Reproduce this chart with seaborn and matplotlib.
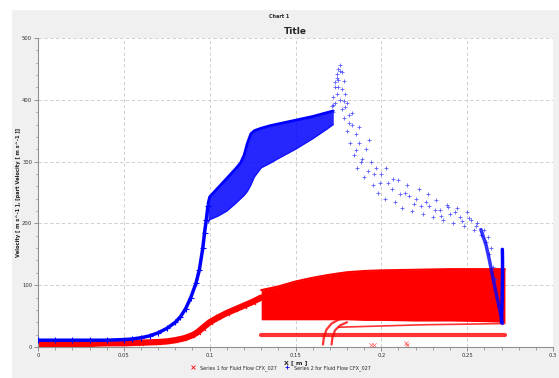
import numpy as np
import pandas as pd
import matplotlib
matplotlib.use("Agg")
import matplotlib.pyplot as plt
from matplotlib.lines import Line2D
from matplotlib.patches import Rectangle
import seaborn as sns

sns.set_theme(style="white")
plt.rcParams['font.family'] = ['DejaVu Sans']

# ---- data ----
# Series 2 (blue +): rising curve up to the jump at x~0.1
blue_rise_x = [0, 0.01, 0.02, 0.03, 0.04, 0.05, 0.055, 0.06, 0.065, 0.07, 0.075,
               0.08, 0.083, 0.086, 0.089, 0.092, 0.094, 0.096, 0.097, 0.098, 0.099]
blue_rise_y = [11, 11, 11, 11, 11, 12, 13, 15, 18, 23, 30,
               40, 49, 62, 80, 103, 125, 160, 185, 205, 228]

# Series 2: dense band between x=0.1 and 0.172
blue_band_x = [0.099, 0.1, 0.105, 0.11, 0.115, 0.118, 0.12, 0.122, 0.124, 0.126,
               0.13, 0.135, 0.14, 0.15, 0.16, 0.168, 0.172]
blue_band_top = [232, 243, 258, 273, 288, 298, 310, 330, 345, 350,
                 354, 358, 361, 367, 373, 379, 382]
blue_band_bottom = [200, 206, 212, 220, 232, 240, 245, 252, 262, 275,
                    290, 297, 305, 320, 337, 352, 360]

# Series 2: peak and scattered decay
blue_cloud_x = [0.171, 0.172, 0.172, 0.173, 0.173, 0.174, 0.174, 0.175, 0.175, 0.176,
                0.176, 0.177, 0.177, 0.178, 0.178, 0.179, 0.18, 0.18, 0.181, 0.182,
                0.183, 0.184, 0.185, 0.186, 0.187, 0.188, 0.19, 0.191, 0.192, 0.194,
                0.195, 0.197, 0.198, 0.2, 0.202, 0.204, 0.206, 0.208, 0.21, 0.212,
                0.214, 0.216, 0.218, 0.22, 0.222, 0.224, 0.226, 0.228, 0.23, 0.232,
                0.234, 0.236, 0.238, 0.24, 0.242, 0.244, 0.246, 0.248, 0.25, 0.252,
                0.254, 0.256, 0.258, 0.26, 0.261, 0.262, 0.263, 0.264, 0.265, 0.266,
                0.172, 0.173, 0.174, 0.175, 0.176, 0.177, 0.178, 0.179, 0.181, 0.183,
                0.185, 0.187, 0.189, 0.193, 0.196, 0.199, 0.203, 0.207, 0.211, 0.215,
                0.219, 0.223, 0.227, 0.231, 0.235, 0.239, 0.243, 0.247, 0.251, 0.255]
blue_cloud_y = [390, 405, 380, 420, 395, 435, 410, 450, 420, 456,
                400, 445, 385, 430, 370, 410, 395, 350, 375, 330,
                360, 310, 345, 290, 330, 300, 275, 320, 285, 300,
                262, 290, 250, 280, 240, 265, 255, 235, 270, 225,
                250, 245, 220, 240, 255, 215, 235, 228, 210, 238,
                222, 205, 230, 215, 200, 225, 210, 195, 218, 205,
                190, 200, 182, 190, 170, 178, 150, 160, 130, 110,
                392, 428, 442, 432, 446, 418, 398, 388, 362, 378,
                318, 356, 305, 335, 280, 265, 290, 272, 248, 262,
                232, 228, 248, 222, 212, 226, 218, 204, 208, 196]

# Series 2: tail and vertical spike at the outlet
blue_tail_x = [0.258, 0.261, 0.263, 0.265, 0.267, 0.269, 0.2705]
blue_tail_y = [190, 165, 140, 112, 85, 60, 38]
blue_spike_x = [0.2700, 0.2702, 0.2704, 0.2705, 0.2706, 0.2706, 0.2705]
blue_spike_y = [40, 60, 80, 100, 120, 140, 158]

# Series 1 (red x): slow rise up to x=0.13
red_rise_x = [0, 0.01, 0.02, 0.03, 0.04, 0.05, 0.06, 0.07, 0.075, 0.08, 0.085,
              0.09, 0.093, 0.096, 0.1, 0.105, 0.11, 0.115, 0.12, 0.125, 0.13]
red_rise_y = [5, 5, 5, 5, 6, 6, 7, 8, 9, 11, 14,
              19, 24, 31, 40, 48, 55, 61, 67, 73, 80]

# Series 1: dense block from x=0.13 to the outlet
red_block_x = [0.13, 0.14, 0.15, 0.16, 0.17, 0.18, 0.19, 0.2, 0.22, 0.24, 0.26, 0.272]
red_block_top = [92, 98, 106, 112, 117, 121, 123, 124, 125, 126, 126, 126]
red_block_bottom = [44, 44, 44, 44, 44, 44, 43, 43, 42, 42, 41, 40]

# Series 1: thin lower lines and curved traces
red_low_x = [0.13, 0.16, 0.19, 0.22, 0.25, 0.272]
red_low_y = [19, 19, 19, 19, 19, 19]
red_mid_x = [0.175, 0.2, 0.225, 0.25, 0.272]
red_mid_y = [32, 34, 36, 37, 38]
red_curve1_x = [0.166, 0.1665, 0.168, 0.171, 0.175, 0.18]
red_curve1_y = [4, 15, 28, 38, 44, 48]
red_curve2_x = [0.171, 0.1715, 0.173, 0.176, 0.18]
red_curve2_y = [4, 15, 27, 35, 40]
red_stray_x = [0.194, 0.196, 0.2145, 0.215]
red_stray_y = [3, 4, 6, 3]

RED = '#ff0000'
BLUE = '#0000ff'

fig = plt.figure(figsize=(5.59, 3.78), dpi=100, facecolor='#f0f0f0')
# white strips left and top
fig.patches.append(Rectangle((0, 0), 11 / 559, 1, transform=fig.transFigure,
                             color='white', zorder=-5))
fig.patches.append(Rectangle((0, 1 - 9 / 378), 1, 9 / 378, transform=fig.transFigure,
                             color='white', zorder=-5))

ax = fig.add_axes([38 / 559, 31 / 378, 515 / 559, 309 / 378])
ax.set_facecolor('white')

# red series
ax.fill_between(red_block_x, red_block_bottom, red_block_top, color=RED, lw=0, zorder=2)
ax.plot(red_block_x, red_block_top, color=RED, lw=1.5, zorder=2)
ax.plot(red_rise_x, red_rise_y, color=RED, lw=4.5, solid_capstyle='round', zorder=2)
for xs, ys, lw in [(red_low_x, red_low_y, 3), (red_mid_x, red_mid_y, 1.2),
                   (red_curve1_x, red_curve1_y, 1.6), (red_curve2_x, red_curve2_y, 1.6)]:
    ax.plot(xs, ys, color=RED, lw=lw, alpha=0.8, zorder=2)
sns.scatterplot(x=red_rise_x, y=red_rise_y, marker='x', color=RED, s=14,
                linewidth=0.7, ax=ax, zorder=2)
sns.scatterplot(x=red_stray_x, y=red_stray_y, marker='x', color=RED, s=10,
                linewidth=0.5, alpha=0.6, ax=ax, zorder=2)

# blue series
ax.plot(blue_rise_x, blue_rise_y, color=BLUE, lw=2.5, zorder=3)
sns.scatterplot(x=blue_rise_x, y=blue_rise_y, marker='+', color=BLUE, s=16,
                linewidth=0.8, ax=ax, zorder=3)
ax.fill_between(blue_band_x, blue_band_bottom, blue_band_top, color=BLUE, alpha=0.85,
                lw=0, zorder=3)
ax.plot(blue_band_x, blue_band_top, color=BLUE, lw=2, zorder=3)
ax.plot(blue_band_x, blue_band_bottom, color=BLUE, lw=0.8, alpha=0.6, zorder=3)
sns.scatterplot(x=blue_cloud_x, y=blue_cloud_y, marker='+', color='#2a2aff', s=12,
                linewidth=0.6, alpha=0.75, ax=ax, zorder=3)
ax.plot(blue_tail_x, blue_tail_y, color=BLUE, lw=2.5, alpha=0.8, zorder=3)
ax.plot(blue_spike_x, blue_spike_y, color=BLUE, lw=2.5, zorder=3)

ax.set_xlim(0, 0.3)
ax.set_ylim(0, 500)
ax.set_xticks(np.arange(0, 0.301, 0.05))
ax.set_xticklabels(['0', '0.05', '0.1', '0.15', '0.2', '0.25', '0.3'])
ax.set_yticks(np.arange(0, 501, 100))
ax.set_xticks(np.arange(0, 0.301, 0.01), minor=True)
ax.set_yticks(np.arange(0, 501, 20), minor=True)
ax.grid(True, which='major', color='#c8c8c8', ls=(0, (4, 3)), lw=0.6)
ax.tick_params(axis='both', which='major', direction='out', length=3, width=0.6,
               colors='#808080', labelsize=3.8, labelcolor='#333333', pad=1.2)
ax.tick_params(axis='both', which='minor', direction='out', length=1.8, width=0.5,
               colors='#808080')
ax.tick_params(bottom=True, left=True, which='both')
for s in ['top', 'right']:
    ax.spines[s].set_visible(False)
for s in ['left', 'bottom']:
    ax.spines[s].set_color('#909090')
    ax.spines[s].set_linewidth(0.8)

ax.set_xlabel('X [ m ]', fontsize=4.5, fontweight='bold', labelpad=1.5)
fig.text(19 / 559, 1 - 192 / 378, 'Velocity [ m s^-1 ], [part Velocity [ m s^-1 ]]',
         rotation=90, ha='center', va='center', fontsize=3.7, fontweight='bold',
         color='#222222')
ax.set_title('Title', fontsize=6.5, fontweight='bold', pad=3)
fig.text(0.5, 1 - 16 / 378, 'Chart 1', ha='center', va='center', fontsize=3.5,
         fontweight='bold')

handles = [Line2D([], [], marker='x', color=RED, ls='none', markersize=3, mew=0.6),
           Line2D([], [], marker='+', color=BLUE, ls='none', markersize=3, mew=0.6)]
fig.legend(handles, ['Series 1 for Fluid Flow CFX_027', 'Series 2 for Fluid Flow CFX_027'],
           loc='center', bbox_to_anchor=(0.5, 1 - 368 / 378), ncol=2, frameon=False,
           fontsize=3.5, handletextpad=0.4, columnspacing=1.2)

fig.savefig('out.png', dpi=100, facecolor=fig.get_facecolor())
